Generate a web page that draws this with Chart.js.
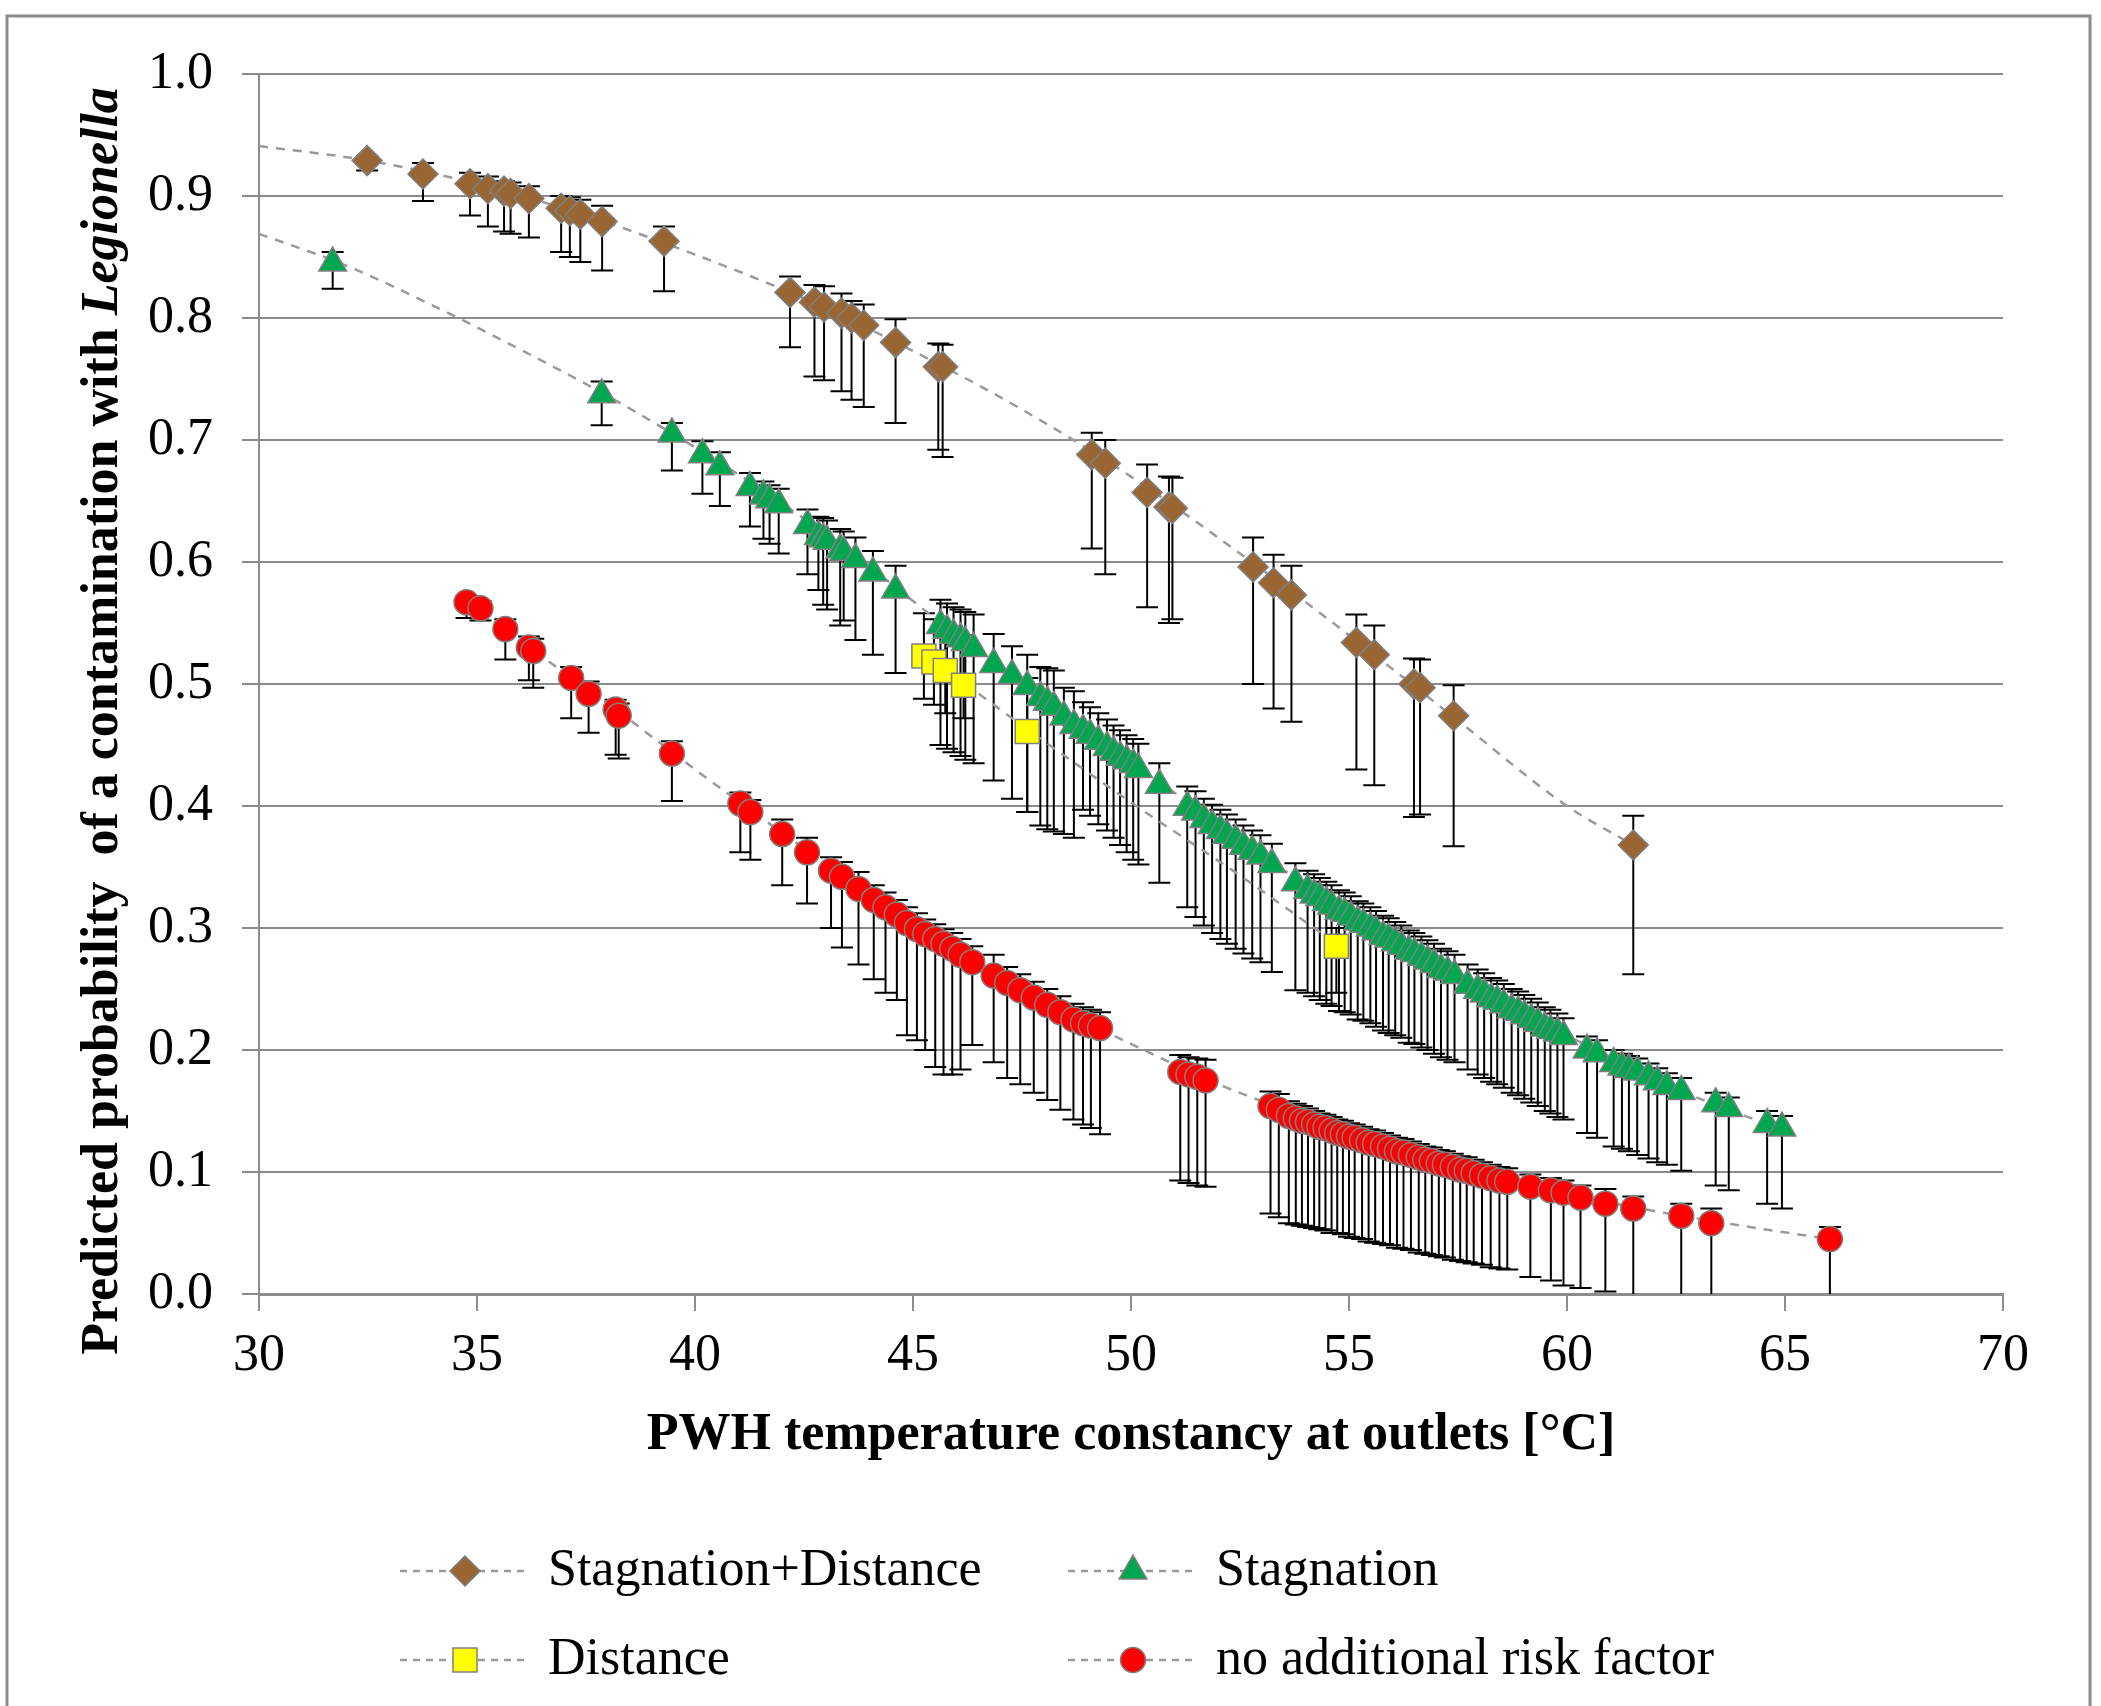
<!DOCTYPE html>
<html>
<head>
<meta charset="utf-8">
<title>Predicted probability of a contamination with Legionella</title>
<script src="https://cdn.jsdelivr.net/npm/chart.js@4.4.1/dist/chart.umd.min.js"></script>
<style>
  html, body { margin: 0; padding: 0; background: #fff; }
  #wrap { width: 2101px; height: 1706px; }
</style>
</head>
<body>
<div id="wrap"><canvas id="legChart" width="2101" height="1706"></canvas></div>
<script>
// tick labels
const xTicks = ['30', '35', '40', '45', '50', '55', '60', '65', '70'];
const yTicks = ['0.0', '0.1', '0.2', '0.3', '0.4', '0.5', '0.6', '0.7', '0.8', '0.9', '1.0'];

const seriesNames = ['Stagnation+Distance', 'Stagnation', 'Distance', 'no additional risk factor'];

// Stagnation+Distance (brown diamonds)
const sdTemp = [32.48, 33.76, 34.84, 35.25, 35.62, 35.77, 36.19, 36.93, 37.13, 37.37, 37.87, 39.29,
  42.18, 42.74, 42.96, 43.36, 43.59, 43.87, 44.6, 45.58, 45.68, 49.1, 49.41, 50.37, 50.87, 50.95,
  52.8, 53.27, 53.68, 55.17, 55.58, 56.49, 56.63, 57.4, 61.52];
const sdProb = [0.929, 0.918, 0.910, 0.906, 0.904, 0.902, 0.898, 0.890, 0.888, 0.885, 0.879, 0.863,
  0.821, 0.813, 0.809, 0.804, 0.800, 0.794, 0.780, 0.760, 0.760, 0.688, 0.681, 0.657, 0.645, 0.644,
  0.596, 0.583, 0.573, 0.534, 0.524, 0.500, 0.497, 0.474, 0.368];
const sdLow = [0.921, 0.896, 0.884, 0.875, 0.871, 0.869, 0.866, 0.854, 0.850, 0.846, 0.839, 0.822,
  0.776, 0.752, 0.749, 0.740, 0.733, 0.727, 0.714, 0.692, 0.686, 0.611, 0.590, 0.563, 0.550, 0.553,
  0.500, 0.480, 0.469, 0.430, 0.417, 0.391, 0.393, 0.367, 0.262];
const sdHigh = [0.933, 0.927, 0.919, 0.916, 0.912, 0.911, 0.908, 0.900, 0.899, 0.897, 0.892, 0.875,
  0.834, 0.827, 0.826, 0.820, 0.814, 0.811, 0.799, 0.779, 0.778, 0.706, 0.700, 0.680, 0.670, 0.669,
  0.620, 0.606, 0.597, 0.557, 0.548, 0.521, 0.520, 0.499, 0.392];

// Stagnation (green triangles)
const stTemp = [31.69, 37.86, 39.47, 40.17, 40.57, 41.26, 41.57, 41.71, 41.92,
  42.58, 42.83, 42.94, 43.03, 43.33, 43.41, 43.68, 44.08, 44.6,
  45.63, 45.78, 45.93, 46.09, 46.2, 46.39, 46.85, 47.27, 47.62, 47.92, 48.08, 48.23, 48.46, 48.69,
  48.9, 49.06, 49.25, 49.45, 49.6, 49.75, 49.9, 50.05, 50.17, 50.65,
  51.29, 51.48, 51.67, 51.86, 52.05, 52.2, 52.4, 52.58, 52.78, 52.97, 53.23, 53.77,
  54.05, 54.2, 54.33, 54.48, 54.6, 54.77, 54.9, 55.04, 55.2, 55.33, 55.49, 55.62, 55.78, 55.91,
  56.06, 56.2, 56.37, 56.5, 56.66, 56.8, 56.95, 57.11, 57.26, 57.42, 57.72, 57.95, 58.1, 58.26,
  58.4, 58.55, 58.73, 58.88, 59.02, 59.18, 59.33, 59.49, 59.62, 59.78, 59.92,
  60.46, 60.69, 61.07, 61.26, 61.42, 61.61, 61.87, 62.07, 62.29, 62.62, 63.41, 63.71, 64.59, 64.93];
const stProb = [0.845, 0.737, 0.705, 0.688, 0.678, 0.661, 0.654, 0.651, 0.647,
  0.630, 0.621, 0.619, 0.617, 0.610, 0.608, 0.602, 0.591, 0.577,
  0.548, 0.544, 0.540, 0.537, 0.534, 0.529, 0.516, 0.507, 0.498, 0.489, 0.485, 0.481, 0.473, 0.466,
  0.462, 0.458, 0.453, 0.448, 0.444, 0.440, 0.437, 0.434, 0.430, 0.417,
  0.399, 0.395, 0.389, 0.384, 0.380, 0.376, 0.372, 0.367, 0.363, 0.359, 0.352, 0.337,
  0.331, 0.327, 0.325, 0.321, 0.318, 0.314, 0.312, 0.309, 0.305, 0.303, 0.300, 0.297, 0.293, 0.291,
  0.288, 0.285, 0.281, 0.279, 0.276, 0.273, 0.270, 0.266, 0.264, 0.261, 0.253, 0.249, 0.246, 0.242,
  0.240, 0.237, 0.233, 0.231, 0.228, 0.225, 0.222, 0.218, 0.216, 0.214, 0.211,
  0.200, 0.197, 0.189, 0.186, 0.184, 0.182, 0.178, 0.174, 0.170, 0.166, 0.156, 0.152, 0.139, 0.136];
const stLow = [0.824, 0.712, 0.675, 0.656, 0.646, 0.629, 0.619, 0.615, 0.607,
  0.590, 0.577, 0.565, 0.561, 0.548, 0.552, 0.536, 0.524, 0.509,
  0.450, 0.447, 0.444, 0.441, 0.438, 0.435, 0.421, 0.406, 0.395, 0.384, 0.381, 0.379, 0.377, 0.374,
  0.397, 0.392, 0.385, 0.380, 0.374, 0.368, 0.362, 0.356, 0.352, 0.337,
  0.317, 0.309, 0.302, 0.296, 0.291, 0.287, 0.283, 0.279, 0.275, 0.272, 0.264, 0.249,
  0.247, 0.244, 0.241, 0.238, 0.236, 0.232, 0.231, 0.229, 0.225, 0.224, 0.222, 0.219, 0.216, 0.214,
  0.212, 0.210, 0.206, 0.205, 0.202, 0.200, 0.197, 0.194, 0.192, 0.190, 0.184, 0.180, 0.177, 0.174,
  0.172, 0.169, 0.165, 0.163, 0.160, 0.157, 0.154, 0.150, 0.148, 0.145, 0.143,
  0.132, 0.128, 0.121, 0.119, 0.117, 0.114, 0.111, 0.108, 0.106, 0.101, 0.089, 0.085, 0.074, 0.070];
const stHigh = [0.854, 0.748, 0.714, 0.699, 0.690, 0.673, 0.666, 0.663, 0.660,
  0.643, 0.637, 0.636, 0.634, 0.627, 0.625, 0.620, 0.609, 0.597,
  0.569, 0.566, 0.563, 0.561, 0.559, 0.557, 0.541, 0.531, 0.524, 0.514, 0.513, 0.511, 0.497, 0.494,
  0.485, 0.481, 0.476, 0.471, 0.466, 0.462, 0.458, 0.455, 0.451, 0.435,
  0.416, 0.412, 0.406, 0.401, 0.397, 0.393, 0.389, 0.384, 0.380, 0.376, 0.369, 0.353,
  0.347, 0.344, 0.341, 0.338, 0.335, 0.331, 0.329, 0.326, 0.322, 0.320, 0.317, 0.314, 0.310, 0.308,
  0.305, 0.302, 0.298, 0.296, 0.293, 0.290, 0.287, 0.283, 0.281, 0.278, 0.270, 0.266, 0.263, 0.259,
  0.257, 0.254, 0.250, 0.248, 0.245, 0.242, 0.239, 0.235, 0.233, 0.230, 0.226,
  0.211, 0.208, 0.200, 0.197, 0.195, 0.193, 0.189, 0.185, 0.181, 0.177, 0.165, 0.161, 0.150, 0.146];

// Distance (yellow squares)
const diTemp = [45.25, 45.48, 45.74, 46.16, 47.62, 54.71];
const diProb = [0.523, 0.518, 0.511, 0.499, 0.461, 0.285];
const diLow = [0.488, 0.483, 0.476, 0.472, 0.395, 0.247];
const diHigh = [0.558, 0.553, 0.548, 0.540, 0.505, 0.300];

// no additional risk factor (red circles)
const noTemp = [34.76, 35.08, 35.65, 36.19, 36.29, 37.16, 37.56, 38.18, 38.25, 39.47, 41.04, 41.27,
  42.0, 42.57, 43.12, 43.37, 43.75, 44.1, 44.37, 44.63, 44.86, 45.09, 45.28, 45.51, 45.7, 45.9,
  46.09, 46.36, 46.85, 47.16, 47.46, 47.77, 48.08, 48.38, 48.68, 48.9, 49.08, 49.29,
  51.13, 51.32, 51.52, 51.71, 53.2, 53.39,
  53.62, 53.78, 53.92, 54.06, 54.2, 54.32, 54.46, 54.6, 54.73, 54.86, 55.0, 55.13, 55.3, 55.45,
  55.6, 55.78, 55.94, 56.1, 56.25, 56.42, 56.6, 56.75, 56.9, 57.06, 57.2, 57.38, 57.55, 57.7,
  57.86, 58.05, 58.25, 58.45, 58.63,
  59.16, 59.63, 59.92, 60.31, 60.88, 61.52, 62.62, 63.31, 66.03];
const noProb = [0.567, 0.562, 0.545, 0.530, 0.527, 0.505, 0.492, 0.479, 0.474, 0.443, 0.402, 0.395,
  0.377, 0.362, 0.347, 0.342, 0.332, 0.323, 0.317, 0.311, 0.304, 0.299, 0.295, 0.291, 0.287, 0.283,
  0.278, 0.272, 0.261, 0.255, 0.249, 0.243, 0.237, 0.231, 0.225, 0.222, 0.220, 0.218,
  0.182, 0.180, 0.178, 0.175, 0.154, 0.151,
  0.146, 0.144, 0.142, 0.141, 0.139, 0.137, 0.136, 0.134, 0.132, 0.131, 0.129, 0.128, 0.126, 0.124,
  0.123, 0.121, 0.119, 0.117, 0.116, 0.114, 0.112, 0.110, 0.109, 0.107, 0.106, 0.104, 0.102, 0.101,
  0.099, 0.097, 0.095, 0.093, 0.092,
  0.088, 0.085, 0.083, 0.079, 0.074, 0.070, 0.064, 0.058, 0.045];
const noLow = [0.554, 0.552, 0.520, 0.503, 0.497, 0.472, 0.460, 0.442, 0.439, 0.404, 0.362, 0.356,
  0.335, 0.320, 0.300, 0.284, 0.270, 0.258, 0.247, 0.241, 0.212, 0.208, 0.200, 0.186, 0.180, 0.180,
  0.184, 0.204, 0.190, 0.177, 0.172, 0.165, 0.159, 0.151, 0.143, 0.139, 0.136, 0.131,
  0.093, 0.091, 0.089, 0.088, 0.066, 0.063,
  0.058, 0.057, 0.056, 0.055, 0.054, 0.053, 0.052, 0.050, 0.050, 0.049, 0.047, 0.046, 0.045, 0.043,
  0.042, 0.041, 0.040, 0.038, 0.037, 0.036, 0.034, 0.033, 0.032, 0.031, 0.030, 0.028, 0.027, 0.026,
  0.025, 0.024, 0.022, 0.021, 0.020,
  0.014, 0.011, 0.007, 0.005, 0.002, 0.0, 0.0, 0.0, 0.0];
const noHigh = [0.572, 0.568, 0.553, 0.539, 0.537, 0.514, 0.502, 0.487, 0.484, 0.453, 0.411, 0.405,
  0.389, 0.374, 0.358, 0.354, 0.346, 0.335, 0.329, 0.323, 0.317, 0.312, 0.307, 0.303, 0.299, 0.296,
  0.291, 0.285, 0.278, 0.268, 0.262, 0.256, 0.250, 0.244, 0.238, 0.235, 0.233, 0.231,
  0.196, 0.194, 0.193, 0.192, 0.166, 0.164,
  0.158, 0.156, 0.154, 0.152, 0.150, 0.148, 0.147, 0.145, 0.143, 0.142, 0.140, 0.139, 0.137, 0.135,
  0.134, 0.132, 0.130, 0.128, 0.127, 0.125, 0.123, 0.121, 0.120, 0.118, 0.117, 0.115, 0.113, 0.112,
  0.110, 0.108, 0.106, 0.104, 0.103,
  0.098, 0.095, 0.093, 0.089, 0.086, 0.080, 0.074, 0.070, 0.055];

// dashed trend curves
const sdTrendT = [30, 32.5, 35, 37.5, 40, 42.5, 45, 47.5, 50, 52.5, 55, 57.5, 60, 61.52];
const sdTrendP = [0.941, 0.929, 0.910, 0.884, 0.852, 0.816, 0.773, 0.725, 0.670, 0.607, 0.540, 0.470, 0.400, 0.368];
const stTrendT = [30, 32, 34, 36, 38, 40, 42, 44, 46, 48, 50, 52, 54, 56, 58, 60, 62, 64, 64.93];
const stTrendP = [0.869, 0.843, 0.810, 0.774, 0.736, 0.694, 0.648, 0.596, 0.540, 0.488, 0.438, 0.384, 0.336, 0.293, 0.250, 0.212, 0.176, 0.147, 0.136];
const diTrendT = [45.25, 47.62, 50, 52.5, 54.71];
const diTrendP = [0.525, 0.463, 0.403, 0.343, 0.287];
const noTrendT = [34.76, 36, 38, 40, 42, 44, 46, 48, 50, 52, 54, 56, 58, 60, 62, 64, 66.03];
const noTrendP = [0.568, 0.535, 0.484, 0.430, 0.378, 0.328, 0.282, 0.240, 0.205, 0.172, 0.145, 0.120, 0.099, 0.082, 0.068, 0.056, 0.045];

const pts = (xs, ys) => xs.map((x, i) => ({x: x, y: ys[i]}));

const serif = 'Liberation Serif, Times New Roman, serif';
const markerEdge = '#7f7f7f';
const trendColor = '#9a9a9a';

function trend(xs, ys) {
  return {
    data: pts(xs, ys),
    showLine: true,
    borderColor: trendColor,
    borderWidth: 2.5,
    borderDash: [9, 8],
    pointRadius: 0,
    cubicInterpolationMode: 'monotone',
    isTrend: true,
    order: 10
  };
}

const markerSets = [
  {label: seriesNames[0], data: pts(sdTemp, sdProb), errLow: sdLow, errHigh: sdHigh,
    pointStyle: 'rectRot', pointRadius: 15, backgroundColor: '#996633', borderColor: markerEdge, borderWidth: 1.5, order: 3},
  {label: seriesNames[1], data: pts(stTemp, stProb), errLow: stLow, errHigh: stHigh,
    pointStyle: 'triangle', pointRadius: 16, backgroundColor: '#00a650', borderColor: markerEdge, borderWidth: 1.5, order: 2},
  {label: seriesNames[2], data: pts(diTemp, diProb), errLow: diLow, errHigh: diHigh,
    pointStyle: 'rect', pointRadius: 17, backgroundColor: '#ffff00', borderColor: markerEdge, borderWidth: 1.5, order: 0},
  {label: seriesNames[3], data: pts(noTemp, noProb), errLow: noLow, errHigh: noHigh,
    pointStyle: 'circle', pointRadius: 12.5, backgroundColor: '#ff0000', borderColor: markerEdge, borderWidth: 1.5, order: 1}
];

// error bars under the markers
const errorBars = {
  id: 'errorBars',
  beforeDatasetsDraw(chart) {
    const {ctx, scales: {x, y}} = chart;
    ctx.save();
    ctx.strokeStyle = '#000';
    ctx.lineWidth = 2;
    chart.data.datasets.forEach(ds => {
      if (!ds.errLow) return;
      ds.data.forEach((p, i) => {
        const px = x.getPixelForValue(p.x);
        const lo = y.getPixelForValue(ds.errLow[i]);
        const hi = y.getPixelForValue(ds.errHigh[i]);
        ctx.beginPath();
        ctx.moveTo(px, lo);
        ctx.lineTo(px, hi);
        ctx.moveTo(px - 11, hi);
        ctx.lineTo(px + 11, hi);
        if (ds.errLow[i] > 0) {
          ctx.moveTo(px - 11, lo);
          ctx.lineTo(px + 11, lo);
        }
        ctx.stroke();
      });
    });
    ctx.restore();
  }
};

// frame, y title with italic genus name, two-column legend
const decorations = {
  id: 'decorations',
  beforeDraw(chart) {
    const ctx = chart.ctx;
    ctx.save();
    ctx.fillStyle = '#fff';
    ctx.fillRect(0, 0, chart.width, chart.height);
    ctx.strokeStyle = '#8c8c8c';
    ctx.lineWidth = 3;
    ctx.strokeRect(7, 16, 2083, 1740);
    ctx.restore();
  },
  afterDraw(chart) {
    const ctx = chart.ctx;
    ctx.save();
    // y axis title
    const part1 = 'Predicted probability  of a contamination with ';
    const part2 = 'Legionella';
    const f1 = 'bold 52px ' + serif;
    const f2 = 'italic bold 52px ' + serif;
    ctx.translate(104, 721);
    ctx.rotate(-Math.PI / 2);
    ctx.fillStyle = '#000';
    ctx.textBaseline = 'middle';
    ctx.textAlign = 'left';
    ctx.font = f1;
    const w1 = ctx.measureText(part1).width;
    ctx.font = f2;
    const w2 = ctx.measureText(part2).width;
    let sx = -(w1 + w2) / 2;
    ctx.font = f1;
    ctx.fillText(part1, sx, 0);
    ctx.font = f2;
    ctx.fillText(part2, sx + w1, 0);
    ctx.restore();

    // legend
    const slots = [[465, 1571], [1133, 1571], [465, 1660], [1133, 1660]];
    ctx.save();
    markerSets.forEach((ds, i) => {
      const [mx, my] = slots[i];
      ctx.strokeStyle = trendColor;
      ctx.lineWidth = 2.5;
      ctx.setLineDash([7, 6]);
      ctx.beginPath();
      ctx.moveTo(mx - 65, my);
      ctx.lineTo(mx + 65, my);
      ctx.stroke();
      ctx.setLineDash([]);
      ctx.fillStyle = ds.backgroundColor;
      ctx.strokeStyle = ds.borderColor;
      ctx.lineWidth = ds.borderWidth;
      Chart.helpers.drawPoint(ctx, {pointStyle: ds.pointStyle, radius: ds.pointRadius, rotation: 0, borderWidth: ds.borderWidth}, mx, my);
      ctx.fillStyle = '#000';
      ctx.font = '52px ' + serif;
      ctx.textBaseline = 'middle';
      ctx.textAlign = 'left';
      ctx.fillText(ds.label, mx + 83, my);
    });
    ctx.restore();
  }
};

new Chart(document.getElementById('legChart'), {
  type: 'scatter',
  data: {
    datasets: markerSets.concat([
      trend(sdTrendT, sdTrendP),
      trend(stTrendT, stTrendP),
      trend(diTrendT, diTrendP),
      trend(noTrendT, noTrendP)
    ])
  },
  options: {
    responsive: false,
    animation: false,
    devicePixelRatio: 1,
    layout: {padding: {top: 74, right: 98, left: 0, bottom: 0}},
    plugins: {
      legend: {display: false},
      tooltip: {enabled: false}
    },
    scales: {
      x: {
        type: 'linear',
        min: 30,
        max: 70,
        afterFit: s => { s.height = 412; },
        ticks: {
          stepSize: 5,
          padding: 14,
          color: '#000',
          font: {family: serif, size: 52},
          callback: (v, i) => xTicks[i]
        },
        grid: {drawOnChartArea: false, drawTicks: true, tickLength: 17, color: '#8c8c8c', lineWidth: 2},
        border: {display: true, color: '#8c8c8c', width: 3},
        title: {
          display: true,
          text: 'PWH temperature constancy at outlets [°C]',
          color: '#000',
          font: {family: serif, size: 52, weight: 'bold'},
          padding: {top: 0, bottom: 239}
        }
      },
      y: {
        type: 'linear',
        min: 0,
        max: 1,
        afterFit: s => { s.width = 259; },
        ticks: {
          stepSize: 0.1,
          padding: 29,
          color: '#000',
          font: {family: serif, size: 52},
          callback: (v, i) => yTicks[i]
        },
        grid: {drawTicks: true, tickLength: 17, color: '#8c8c8c', lineWidth: 2},
        border: {display: true, color: '#8c8c8c', width: 2}
      }
    }
  },
  plugins: [errorBars, decorations]
});
</script>
</body>
</html>
